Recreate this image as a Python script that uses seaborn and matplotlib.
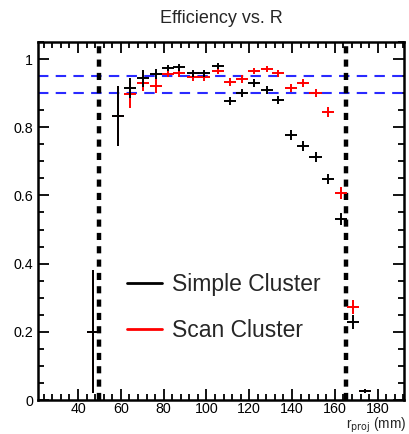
import numpy as np
import matplotlib
matplotlib.use("Agg")
import matplotlib.pyplot as plt
import seaborn as sns
from matplotlib.ticker import MultipleLocator
from matplotlib.lines import Line2D

# ---- data ----
r_proj = [47, 58.7, 64.3, 70.4, 76.4, 82, 87.3, 93.7, 99, 105.4, 111, 116.6,
          122.2, 128.3, 133.5, 139.5, 145, 151, 156.8, 162.9, 168.5, 174]
r_halfwidth = [2.86] * len(r_proj)

simple_eff = [0.20, 0.833, 0.915, 0.944, 0.956, 0.974, 0.976, 0.958, 0.958, 0.979,
              0.877, 0.900, 0.930, 0.909, 0.880, 0.777, 0.745, 0.713, 0.648, 0.530,
              0.229, 0.026]
simple_err = [0.18, 0.087, 0.03, 0.025, 0.015, 0.01, 0.01, 0.01, 0.01, 0.008,
              0.012, 0.012, 0.012, 0.012, 0.012, 0.014, 0.014, 0.015, 0.015, 0.018,
              0.02, 0.005]

scan_eff = [0.20, 0.833, 0.897, 0.930, 0.921, 0.956, 0.958, 0.947, 0.947, 0.965,
            0.932, 0.941, 0.965, 0.971, 0.958, 0.915, 0.929, 0.900, 0.845, 0.607,
            0.273, 0.026]
scan_err = [0.18, 0.087, 0.04, 0.025, 0.02, 0.01, 0.01, 0.01, 0.01, 0.008,
            0.012, 0.012, 0.01, 0.01, 0.01, 0.012, 0.012, 0.012, 0.015, 0.018,
            0.02, 0.005]

eff_lines = [0.95, 0.90]
r_bounds = [50, 165]

# ---- style ----
sns.set_theme(style="ticks")
plt.rcParams['font.family'] = ['Liberation Sans', 'DejaVu Sans']

fig = plt.figure(figsize=(4.09, 4.34), dpi=100)
ax = fig.add_axes([38/409, 1 - 400/434, (404-38)/409, (400-42)/434])

for yv in eff_lines:
    ax.axhline(yv, color='#2a2aff', lw=1.5, ls=(0, (5, 3.5)), zorder=1)
for xv in r_bounds:
    ax.axvline(xv, color='black', lw=3.2, ls=(0, (1.6, 1.4)), zorder=1)

ax.errorbar(r_proj, scan_eff, xerr=r_halfwidth, yerr=scan_err, fmt='none',
            ecolor='red', elinewidth=1.4, capsize=0, zorder=3)
ax.errorbar(r_proj, simple_eff, xerr=r_halfwidth, yerr=simple_err, fmt='none',
            ecolor='black', elinewidth=1.4, capsize=0, zorder=4)

ax.set_xlim(21.3, 192.3)
ax.set_ylim(0, 1.05)

ax.xaxis.set_minor_locator(MultipleLocator(4))
ax.yaxis.set_minor_locator(MultipleLocator(0.05))
ax.set_xticks([40, 60, 80, 100, 120, 140, 160, 180])
ax.set_xticklabels(['40', '60', '80', '100', '120', '140', '160', '180'])
ax.set_yticks([0, 0.2, 0.4, 0.6, 0.8, 1.0])
ax.set_yticklabels(['0', '0.2', '0.4', '0.6', '0.8', '1'])
ax.tick_params(which='both', direction='in', top=True, right=True,
               labelsize=10.3, colors='black', width=1.3)
ax.tick_params(which='major', length=8)
ax.tick_params(which='minor', length=4)
ax.tick_params(axis='x', pad=1.5)
for s in ax.spines.values():
    s.set_linewidth(1.8)
    s.set_color('black')
ax.set_facecolor('white')
ax.grid(False)

ax.set_title('Efficiency vs. R', fontsize=13, pad=14)
fig.text(406/409, 1 - 429/434, r'r$_{\rm proj}$ (mm)', ha='right', va='baseline',
         fontsize=9.8)

handles = [Line2D([], [], color='black', lw=2), Line2D([], [], color='red', lw=2)]
ax.legend(handles, ['Simple Cluster', 'Scan Cluster'], frameon=False, fontsize=16.5,
          loc='upper left', bbox_to_anchor=(127/409, 1 - 273/434),
          bbox_transform=fig.transFigure, borderpad=0, borderaxespad=0,
          handlelength=1.53, handletextpad=0.44, labelspacing=1.0)

fig.savefig('out.png', dpi=100, facecolor='white')
